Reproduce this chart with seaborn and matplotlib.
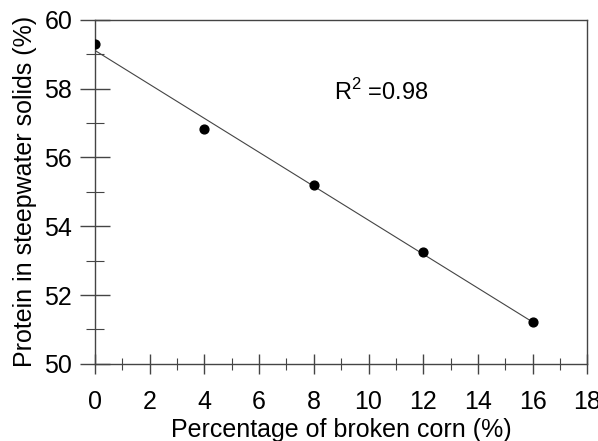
import matplotlib
matplotlib.use("Agg")
import matplotlib.pyplot as plt
import seaborn as sns
import numpy as np
from matplotlib.ticker import MultipleLocator

# values
broken_corn = [0, 4, 8, 12, 16]
protein = [59.30, 56.83, 55.20, 53.26, 51.22]
r2_label = "R$^2$ =0.98"

sns.set_style("ticks")
plt.rcParams['font.family'] = ['Liberation Sans', 'DejaVu Sans']
plt.rcParams['mathtext.fontset'] = 'custom'
plt.rcParams['mathtext.rm'] = 'Liberation Sans'
plt.rcParams['text.color'] = 'black'
plt.rcParams['axes.labelcolor'] = 'black'
plt.rcParams['xtick.labelcolor'] = 'black'
plt.rcParams['ytick.labelcolor'] = 'black'

fig = plt.figure(figsize=(5.98, 4.41), dpi=100)
ax = fig.add_axes([0.159, 0.175, 0.823, 0.78])

# fitted line plus the points
sns.regplot(x=broken_corn, y=protein, ax=ax, ci=None, truncate=True,
            scatter_kws={"s": 40, "color": "black", "edgecolor": "black",
                         "alpha": 1, "zorder": 3},
            line_kws={"color": "#444444", "lw": 0.8})

ax.set_xlim(0, 18)
ax.set_ylim(50, 60)
ax.xaxis.set_major_locator(MultipleLocator(2))
ax.xaxis.set_minor_locator(MultipleLocator(1))
ax.yaxis.set_major_locator(MultipleLocator(2))
ax.yaxis.set_minor_locator(MultipleLocator(1))

ax.tick_params(axis="x", which="major", direction="inout", length=15, width=1, color="#444444", labelsize=18, pad=11)
ax.tick_params(axis="x", which="minor", direction="inout", length=9, width=0.8, color="#444444")
ax.tick_params(axis="y", which="major", direction="inout", length=21, width=1, color="#444444", labelsize=18, pad=6)
ax.tick_params(axis="y", which="minor", direction="inout", length=13, width=0.8, color="#444444")

for sp in ax.spines.values():
    sp.set_color("#444444")
    sp.set_linewidth(1)

ax.set_xlabel("Percentage of broken corn (%)", fontsize=18, labelpad=3)
ax.set_ylabel("Protein in steepwater solids (%)", fontsize=18, labelpad=5)

ax.text(8.75, 57.9, r2_label, fontsize=17, ha="left", va="center")

fig.savefig("out.png", dpi=100)
